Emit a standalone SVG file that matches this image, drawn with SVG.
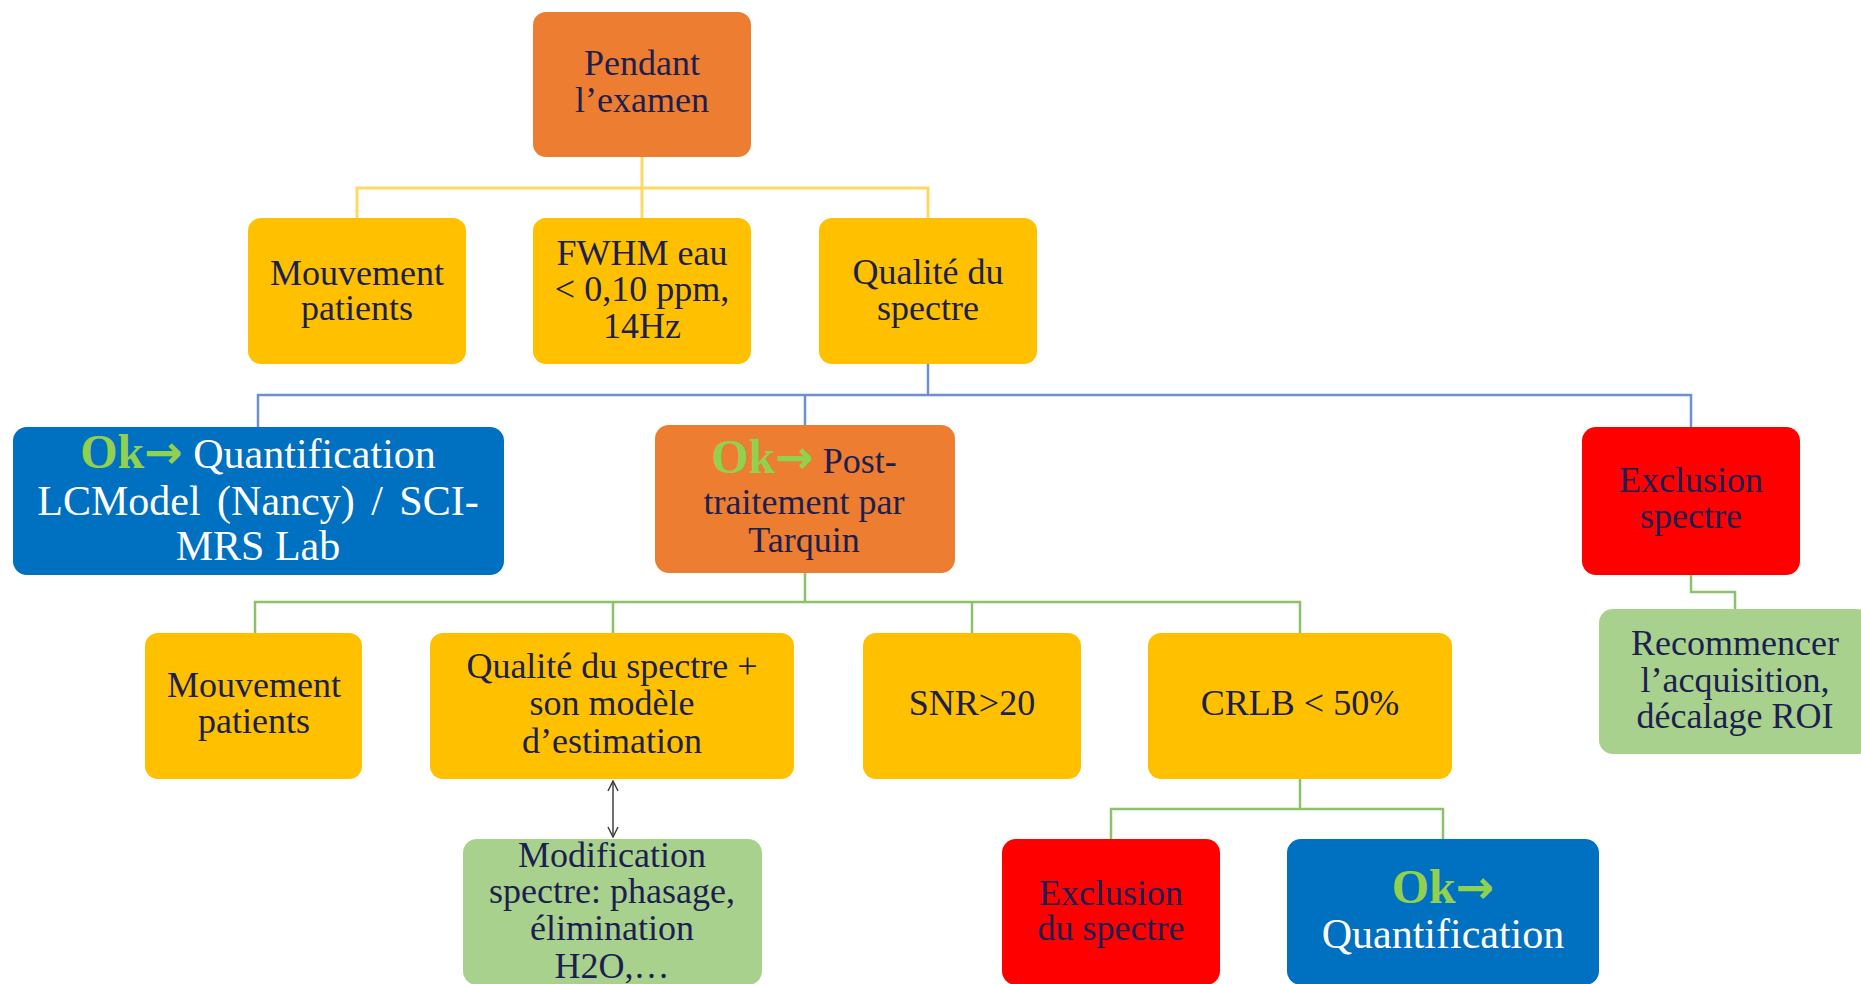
<svg xmlns="http://www.w3.org/2000/svg" width="1861" height="984" viewBox="0 0 1861 984">
<defs>
<marker id="arr" viewBox="0 0 12 12" refX="11" refY="6" markerWidth="12" markerHeight="12" markerUnits="userSpaceOnUse" orient="auto-start-reverse">
<path d="M1,1 L11,6 L1,11" fill="none" stroke="#404040" stroke-width="1.5"/>
</marker>
</defs>
<style>
text{font-family:"Liberation Serif","Times New Roman",serif;font-size:36px;text-anchor:middle;fill:#1c1f4f}
.w{fill:#ffffff;font-size:42px}
.ok{fill:#92D050;font-weight:bold;font-size:48px}
.ar{font-family:"DejaVu Sans",sans-serif;font-weight:bold;font-size:46px}
.or{fill:#ED7D31}
.ye{fill:#FFC000}
.bl{fill:#0070C0}
.rd{fill:#FF0000}
.gr{fill:#A9D18E}
.cy{fill:none;stroke:#FFD966;stroke-width:3}
.cb{fill:none;stroke:#6E8FD0;stroke-width:2.5}
.cg{fill:none;stroke:#8CC26B;stroke-width:2.5}
</style>
<rect width="1861" height="984" fill="#ffffff"/>
<g id="connectors">
<path class="cy" d="M642,157 V218 M357,218 V188 H928 V218"/>
<path class="cb" d="M928,364 V395 M258,427 V395 H1691 V427 M805,395 V425"/>
<path class="cg" d="M805,573 V602 M255,633 V602 H1300 V633 M613,602 V633 M972,602 V633"/>
<path class="cg" d="M1300,779 V809 M1111,839 V809 H1443 V839"/>
<path class="cg" d="M1691,575 V592 H1735 V609"/>
<path d="M613,781 V837" fill="none" stroke="#404040" stroke-width="1.5" marker-start="url(#arr)" marker-end="url(#arr)"/>
</g>
<g id="n-pendant">
<rect class="or" x="533" y="12" width="218" height="145" rx="13"/>
<text x="642" y="75">Pendant</text>
<text x="642" y="112">l’examen</text>
</g>
<g id="n-mouvement1">
<rect class="ye" x="248" y="218" width="218" height="146" rx="13"/>
<text x="357" y="285">Mouvement</text>
<text x="357" y="320">patients</text>
</g>
<g id="n-fwhm">
<rect class="ye" x="533" y="218" width="218" height="146" rx="13"/>
<text x="642" y="265">FWHM eau</text>
<text x="642" y="301">&lt; 0,10 ppm,</text>
<text x="642" y="338">14Hz</text>
</g>
<g id="n-qualite1">
<rect class="ye" x="819" y="218" width="218" height="146" rx="13"/>
<text x="928" y="284">Qualité du</text>
<text x="928" y="320">spectre</text>
</g>
<g id="n-lcmodel">
<rect class="bl" x="13" y="427" width="491" height="148" rx="14"/>
<text x="258" y="468" class="w"><tspan class="ok">Ok</tspan><tspan class="ok ar">→</tspan> Quantification</text>
<text x="258" y="515" class="w" word-spacing="6">LCModel (Nancy) / SCI-</text>
<text x="258" y="560" class="w">MRS Lab</text>
</g>
<g id="n-post">
<rect class="or" x="655" y="425" width="300" height="148" rx="14"/>
<text x="804" y="473"><tspan class="ok">Ok</tspan><tspan class="ok ar">→</tspan> Post-</text>
<text x="804" y="514">traitement par</text>
<text x="804" y="552">Tarquin</text>
</g>
<g id="n-exclusion1">
<rect class="rd" x="1582" y="427" width="218" height="148" rx="14"/>
<text x="1691" y="492">Exclusion</text>
<text x="1691" y="528">spectre</text>
</g>
<g id="n-recommencer">
<rect class="gr" x="1599" y="609" width="272" height="145" rx="14"/>
<text x="1735" y="655">Recommencer</text>
<text x="1735" y="692">l’acquisition,</text>
<text x="1735" y="728">décalage ROI</text>
</g>
<g id="n-mouvement2">
<rect class="ye" x="145" y="633" width="217" height="146" rx="13"/>
<text x="254" y="697">Mouvement</text>
<text x="254" y="733">patients</text>
</g>
<g id="n-qualite2">
<rect class="ye" x="430" y="633" width="364" height="146" rx="13"/>
<text x="612" y="678">Qualité du spectre +</text>
<text x="612" y="715">son modèle</text>
<text x="612" y="753">d’estimation</text>
</g>
<g id="n-snr">
<rect class="ye" x="863" y="633" width="218" height="146" rx="13"/>
<text x="972" y="715">SNR&gt;20</text>
</g>
<g id="n-crlb">
<rect class="ye" x="1148" y="633" width="304" height="146" rx="13"/>
<text x="1300" y="715">CRLB &lt; 50%</text>
</g>
<g id="n-modification">
<rect class="gr" x="463" y="839" width="299" height="146" rx="14"/>
<text x="612" y="867">Modification</text>
<text x="612" y="903">spectre: phasage,</text>
<text x="612" y="940">élimination</text>
<text x="612" y="978">H2O,…</text>
</g>
<g id="n-exclusion2">
<rect class="rd" x="1002" y="839" width="218" height="146" rx="14"/>
<text x="1111" y="905">Exclusion</text>
<text x="1111" y="940">du spectre</text>
</g>
<g id="n-quant">
<rect class="bl" x="1287" y="839" width="312" height="146" rx="14"/>
<text x="1443" y="903" class="ok">Ok<tspan class="ar">→</tspan></text>
<text x="1443" y="948" class="w">Quantification</text>
</g>
</svg>
